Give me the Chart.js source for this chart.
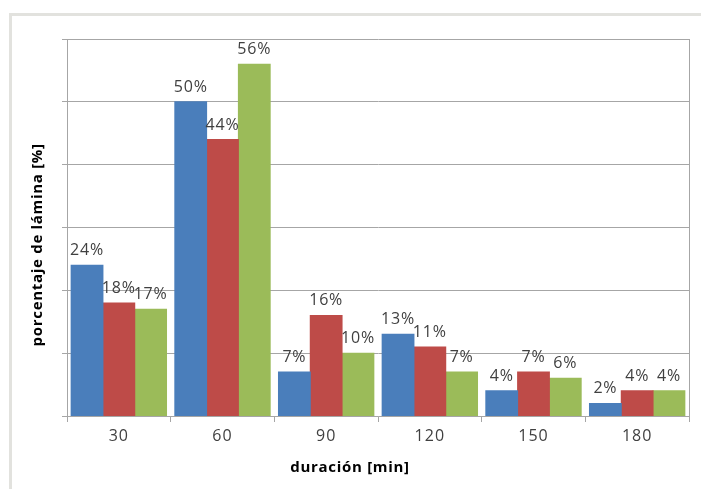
<!DOCTYPE html>
<html>
<head>
<meta charset="utf-8">
<script src="https://cdn.jsdelivr.net/npm/chart.js@4/dist/chart.umd.min.js"></script>
<style>
  html, body { margin: 0; padding: 0; background: #fff; }
  #wrap { position: relative; width: 701px; height: 489px; overflow: hidden; }
  #frame { position: absolute; left: 9px; top: 13px; width: 720px; height: 500px;
           border-top: 3px solid #e2e2de; border-left: 3px solid #e2e2de; }
  canvas { position: absolute; left: 0; top: 0; }
</style>
</head>
<body>
<div id="wrap">
  <div id="frame"></div>
  <canvas id="c" width="701" height="489"></canvas>
</div>
<script>
// Duración del ensayo (min) y porcentaje de lámina para cada serie
const categories = ['30', '60', '90', '120', '150', '180'];
const serieA = [24, 50, 7, 13, 4, 2];
const serieB = [18, 44, 16, 11, 7, 4];
const serieC = [17, 56, 10, 7, 6, 4];
const yTicks = [0, 10, 20, 30, 40, 50, 60];

const colors = ['#4a7ebb', '#be4b48', '#9bbb59'];
const FONT = '"Open Sans", "DejaVu Sans", sans-serif';

// Etiquetas de valor sobre cada barra, borde derecho y títulos de ejes
const decorations = {
  id: 'decorations',
  beforeDraw(chart) {
    chart.ctx.letterSpacing = '1px';
  },
  afterDatasetsDraw(chart) {
    const ctx = chart.ctx;
    const area = chart.chartArea;
    ctx.save();
    // borde derecho del área de trazado
    ctx.strokeStyle = '#a6a6a6';
    ctx.lineWidth = 1;
    ctx.beginPath();
    ctx.moveTo(Math.round(area.right) + 0.5, area.top);
    ctx.lineTo(Math.round(area.right) + 0.5, area.bottom);
    ctx.stroke();

    // valores
    ctx.fillStyle = '#404040';
    ctx.font = '16px ' + FONT;
    ctx.letterSpacing = '0.8px';
    ctx.textAlign = 'center';
    ctx.textBaseline = 'alphabetic';
    chart.data.datasets.forEach((ds, i) => {
      const meta = chart.getDatasetMeta(i);
      meta.data.forEach((bar, j) => {
        ctx.fillText(ds.data[j] + '%', bar.x, bar.y - 10);
      });
    });

    // títulos de ejes
    ctx.fillStyle = '#000';
    ctx.font = 'bold 15px ' + FONT;
    ctx.letterSpacing = '0.7px';
    ctx.textBaseline = 'middle';
    ctx.fillText('duración [min]', area.left + area.width * 0.455, area.bottom + 52);
    ctx.translate(area.left - 29, area.top + area.height * 0.546);
    ctx.rotate(-Math.PI / 2);
    ctx.fillText('porcentaje de lámina [%]', 0, 0);
    ctx.restore();
  }
};

new Chart(document.getElementById('c'), {
  type: 'bar',
  data: {
    labels: categories,
    datasets: [
      { data: serieA, backgroundColor: colors[0] },
      { data: serieB, backgroundColor: colors[1] },
      { data: serieC, backgroundColor: colors[2] }
    ]
  },
  options: {
    responsive: false,
    animation: false,
    devicePixelRatio: 1,
    layout: { padding: { top: 39, right: 12, left: 0, bottom: 0 } },
    plugins: { legend: { display: false }, tooltip: { enabled: false } },
    datasets: { bar: { barPercentage: 1.0, categoryPercentage: 0.92, inflateAmount: 0.5 } },
    scales: {
      x: {
        grid: { drawOnChartArea: false, offset: true, tickLength: 6, color: '#a6a6a6' },
        border: { color: '#a6a6a6' },
        ticks: { color: '#404040', font: { family: FONT, size: 16 }, padding: 5 },
        afterFit(s) { s.height = 73; }
      },
      y: {
        min: 0, max: 60,
        afterBuildTicks(s) { s.ticks = yTicks.map(v => ({ value: v })); },
        grid: { color: '#a6a6a6', tickLength: 5 },
        border: { color: '#a6a6a6' },
        ticks: { display: false },
        afterFit(s) { s.width = 67; }
      }
    }
  },
  plugins: [decorations]
});
</script>
</body>
</html>
